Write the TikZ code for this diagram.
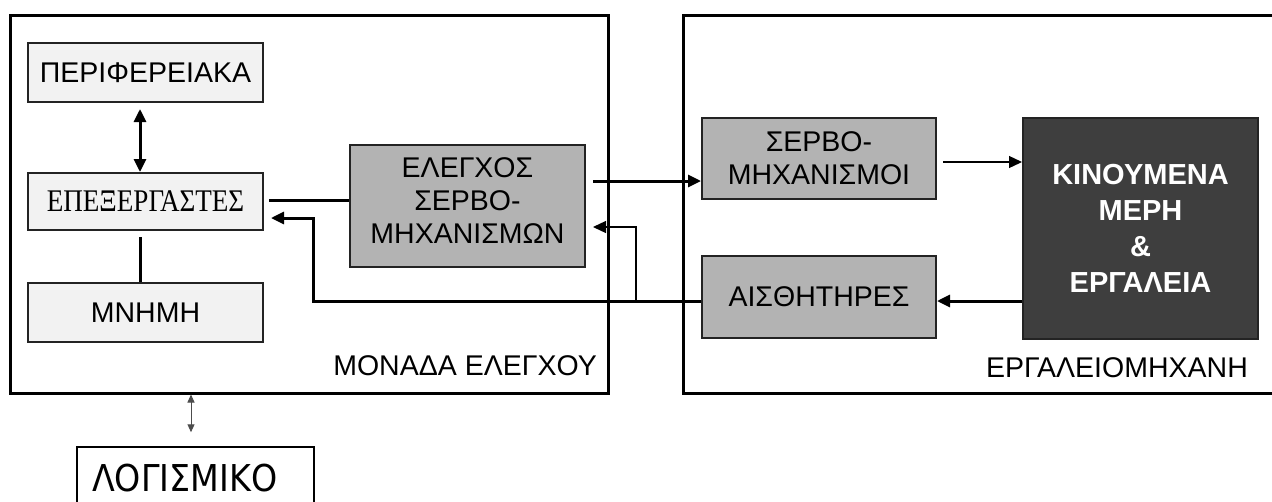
\documentclass[tikz,border=0pt]{standalone}
\usepackage{fontspec}
\setmainfont{Liberation Sans}
\newfontfamily\serifgr[FakeStretch=0.86]{Liberation Serif}
\newfontfamily\logfont[FakeStretch=0.9]{DejaVu Sans}
\usetikzlibrary{arrows.meta,calc}
\definecolor{lightbox}{RGB}{242,242,242}
\definecolor{midbox}{RGB}{179,179,179}
\definecolor{darkbox}{RGB}{62,62,62}
\definecolor{edgegray}{RGB}{35,35,35}
\begin{document}
\begin{tikzpicture}[x=1pt,y=-1pt,
  lbl/.style={font=\fontsize{28.5}{33}\selectfont, align=center, inner sep=0pt},
  unit/.style={draw=edgegray, line width=2pt, inner sep=0pt, lbl},
  softbox/.style={unit, fill=lightbox, minimum width=235pt, minimum height=59pt},
  servobox/.style={unit, fill=midbox, minimum width=234pt},
  machbox/.style={unit, fill=darkbox, text=white, font=\bfseries\fontsize{29}{36}\selectfont},
  frame/.style={draw=black, line width=3pt, inner sep=0pt},
  link/.style={line width=3pt, line join=miter},
  thinlink/.style={line width=1.3pt, line join=miter},
  tip/.style={-{Triangle[length=13pt,width=12pt]}},
  bothtips/.style={{Triangle[length=13pt,width=12pt]}-{Triangle[length=13pt,width=12pt]}},
  smalltips/.style={{Triangle[length=8pt,width=7pt]}-{Triangle[length=8pt,width=7pt]}}
]
\fill[white] (0,0) rectangle (1272,501);
\useasboundingbox (0,0) rectangle (1272,501);

% outer frames
\node[frame, minimum width=598pt, minimum height=378pt] (ctrl) at (309,204) {};
\node[frame, minimum width=607pt, minimum height=378pt] (tool) at (986.5,204) {};

% control unit content
\node[softbox] (peri) at (145.5,72.5) {ΠΕΡΙΦΕΡΕΙΑΚΑ};
\node[softbox, minimum height=57pt] (cpu) at (145.5,201.5) {\serifgr\fontsize{31.5}{33}\selectfont ΕΠΕΞΕΡΓΑΣΤΕΣ};
\node[softbox] (mem) at (145.5,312.5) {ΜΝΗΜΗ};
\node[servobox, minimum width=235pt, minimum height=122pt] (ctl) at (467.5,206) {};
\node[lbl] (ctltext) at (467.5,201) {ΕΛΕΓΧΟΣ\\ΣΕΡΒΟ-\\ΜΗΧΑΝΙΣΜΩΝ};

% machine tool content
\node[servobox, minimum height=81pt] (servo) at (819,158.5) {ΣΕΡΒΟ-\\ΜΗΧΑΝΙΣΜΟΙ};
\node[servobox, minimum height=82pt] (sens) at (819,297) {ΑΙΣΘΗΤΗΡΕΣ};
\node[machbox, minimum width=235pt, minimum height=221pt] (mach) at (1140.5,228.5) {ΚΙΝΟΥΜΕΝΑ\\ΜΕΡΗ\\\&\\ΕΡΓΑΛΕΙΑ};

% frame labels
\node[lbl, anchor=east] (ctrlname) at (597,366) {ΜΟΝΑΔΑ ΕΛΕΓΧΟΥ};
\node[lbl, anchor=east] (toolname) at (1248,368) {ΕΡΓΑΛΕΙΟΜΗΧΑΝΗ};

% software
\node[draw=black, line width=1.5pt, fill=white, minimum width=237pt, minimum height=83pt, inner sep=0pt] (soft) at (195.5,488.5) {};
\node[font=\logfont\fontsize{37}{40}\selectfont, anchor=west, inner sep=0pt] (softname) at (92,478) {ΛΟΓΙΣΜΙΚΟ};

% helper coordinates
\coordinate (cpuin) at ([yshift=-16.5pt]cpu.east);
\coordinate (ctlin) at ([yshift=-21pt]ctl.east);
\coordinate (ctlout) at ([yshift=25pt]ctl.east);
\coordinate (sensout) at ([yshift=-4pt]sens.west);
\coordinate (sensin) at ([yshift=-4pt]sens.east);
\coordinate (servout) at ([yshift=-3.5pt]servo.east);
\coordinate (j1) at (313,0);
\coordinate (j2) at (636,0);
\coordinate (perib) at ([xshift=-5.5pt]peri.south);
\coordinate (cpub) at ([xshift=-5.5pt]cpu.south);
\coordinate (swtop) at ([xshift=-118pt]ctrl.south);

% connectors
\draw[link, bothtips, shorten <=6pt] (perib) -- (perib |- cpu.north);
\draw[link, shorten <=6pt] (cpub) -- (cpub |- mem.north);
\draw[link, shorten <=5pt] ([yshift=1.5pt]cpu.east) -- ([yshift=1.5pt]cpu.east -| ctl.west);
\draw[link, tip, shorten <=7pt] (ctlout) -- (ctlout -| servo.west);
\draw[thinlink, tip, shorten <=6pt] (servout) -- (servout -| mach.west);
\draw[link, tip] (sensin -| mach.west) -- (sensin);
\draw[link, tip, shorten >=7pt] (sensout) -| (j1 |- cpuin) -- (cpuin);
\draw[thinlink, tip, shorten >=7pt] (j2 |- sensout) -- (j2 |- ctlin) -- (ctlin);
\draw[gray!60!black, line width=1pt, smalltips, shorten >=14pt] (swtop) -- (swtop |- soft.north);
\end{tikzpicture}
\end{document}
